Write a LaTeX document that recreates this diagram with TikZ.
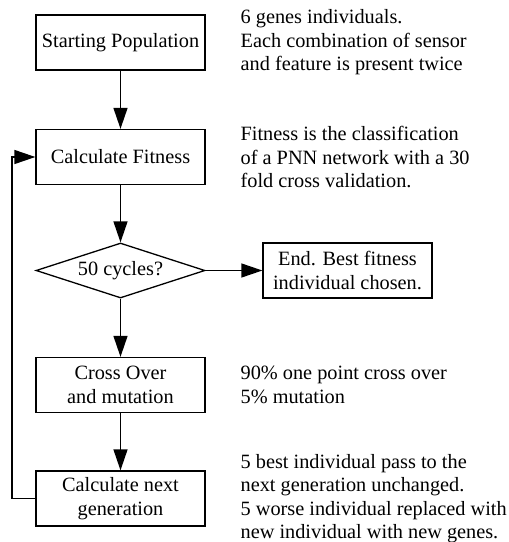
\documentclass[tikz,border=0pt]{standalone}
\usepackage{fontspec}
\setmainfont{Liberation Serif}
\usetikzlibrary{shapes.geometric,arrows.meta}

\begin{document}
\begin{tikzpicture}[x=1pt,y=-1pt,line width=1.3pt,
  font=\fontsize{20.3}{23.5}\selectfont,
  box/.style={draw,minimum width=169pt,minimum height=55pt,align=center,inner sep=0pt},
  note/.style={anchor=west,align=left,inner sep=0pt},
  >={Triangle[length=21pt,width=14pt]}]
\useasboundingbox (0,0) rectangle (509,542);

\node[box] (start) at (120.5,42.5) {Starting Population};
\node[box] (fit) at (120.5,157) {Calculate Fitness};
\node[box,shape=diamond,aspect=3.07] (cyc) at (120.5,270.5) {50 cycles?};
\node[box] (end) at (347.5,270.5) {End. Best fitness\\individual chosen.};
\node[box] (cross) at (120.5,385) {Cross Over\\and mutation};
\node[box] (gen) at (120.5,498.5) {Calculate next\\generation};

\coordinate (loop) at (12,498.5);

\draw[->] (start) -- (fit);
\draw[->] (fit) -- (cyc);
\draw[->] (cyc) -- (end);
\draw[->] (cyc) -- (cross);
\draw[->] (cross) -- (gen);
\draw[->] (gen.west) -- (loop) |- (fit.west);

\node[note] (n1) at (240,42.5) {6 genes individuals.\\Each combination of sensor\\and feature is present twice};
\node[note] (n2) at (240,157) {Fitness is the classification\\of a PNN network with a 30\\fold cross validation.};
\node[note] (n3) at (240,385) {90\% one point cross over\\5\% mutation};
\node[note] (n4) at (240,498.5) {5 best individual pass to the\\next generation unchanged.\\5 worse individual replaced with\\new individual with new genes.};
\end{tikzpicture}
\end{document}
